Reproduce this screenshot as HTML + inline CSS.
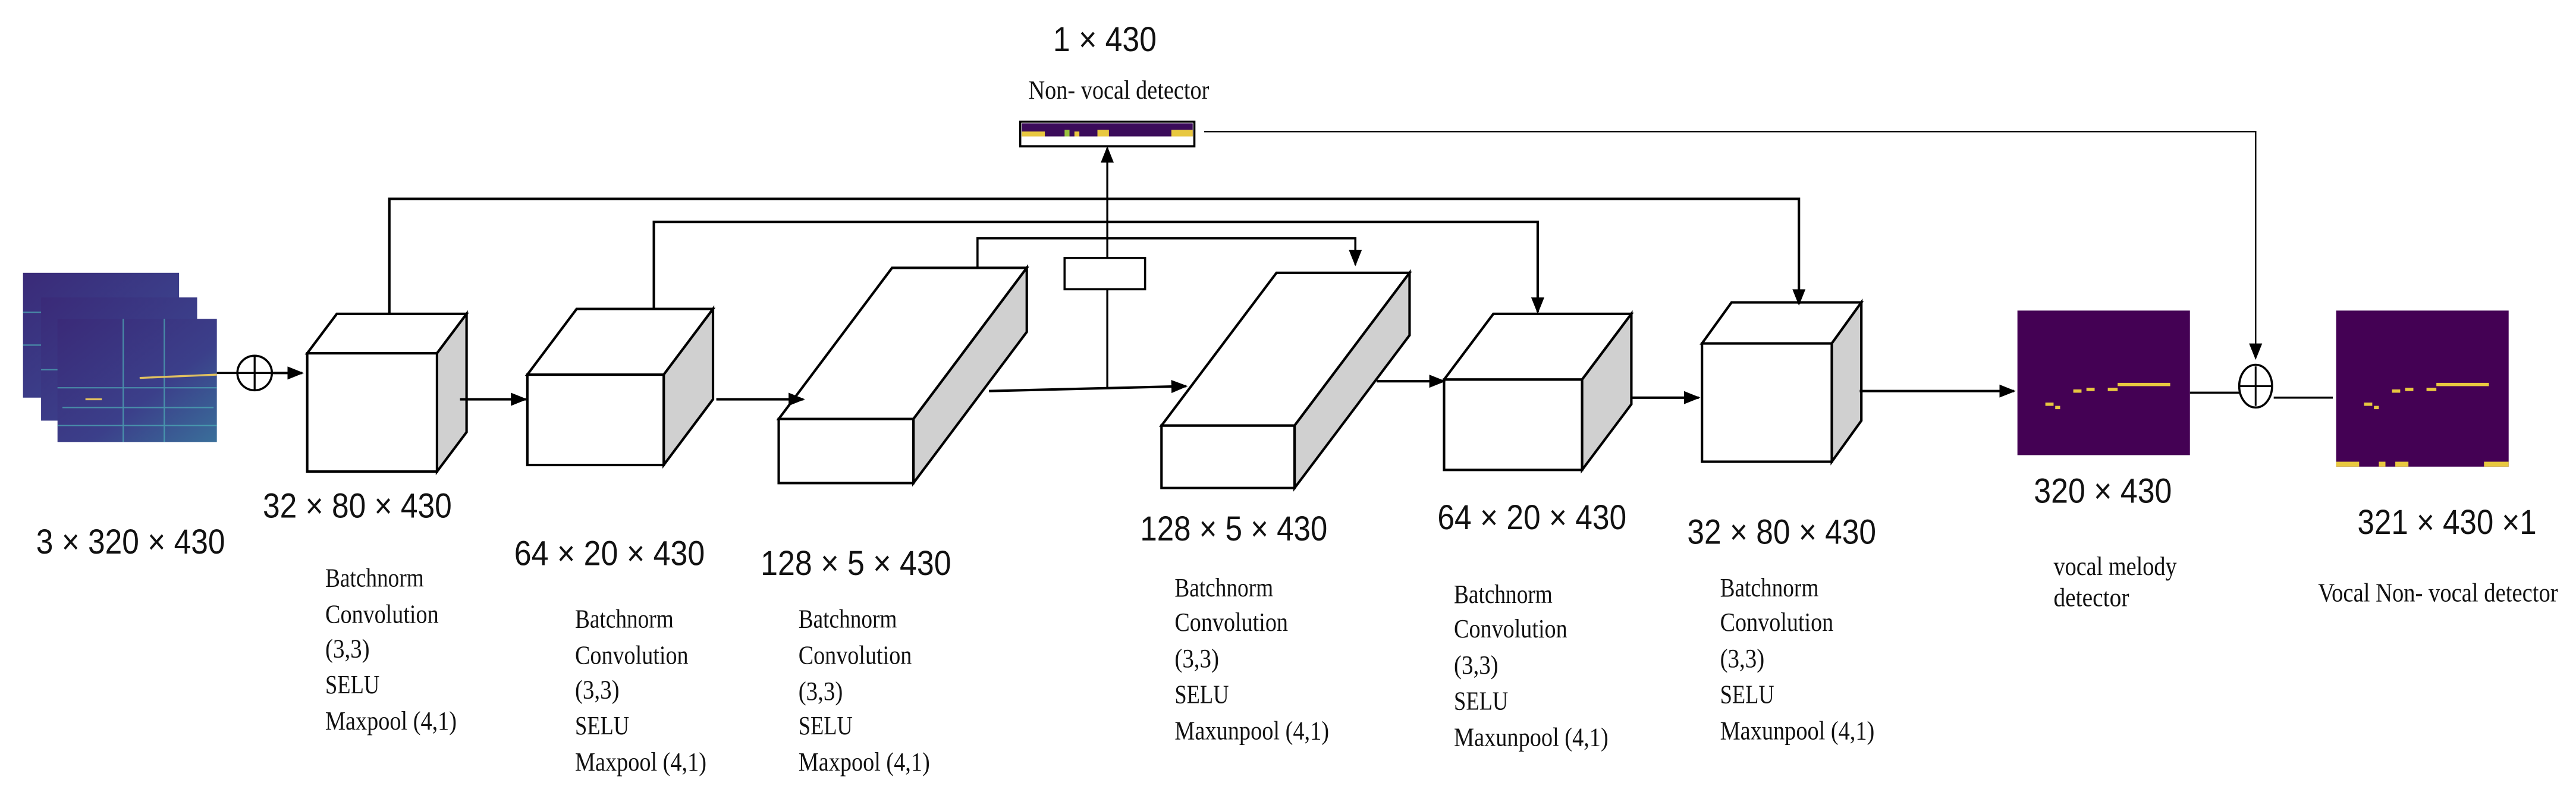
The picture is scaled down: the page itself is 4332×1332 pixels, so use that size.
<!DOCTYPE html>
<html><head><meta charset="utf-8"><style>
html,body{margin:0;padding:0;background:#fff;}
svg{display:block;}
.lab{font-family:"Liberation Sans",sans-serif;font-size:21px;fill:#111;}
.ser{font-family:"Liberation Serif",serif;font-size:16px;fill:#111;}
</style></head><body>
<svg width="4332" height="1332" viewBox="0 0 1568 482" xmlns="http://www.w3.org/2000/svg">
<defs>
<marker id="ah" markerWidth="10" markerHeight="8" refX="9" refY="4" orient="auto" markerUnits="userSpaceOnUse">
<path d="M0,0 L10,4 L0,8 z" fill="#000"/></marker>
<linearGradient id="sg" x1="0" y1="0" x2="1" y2="1">
<stop offset="0" stop-color="#3a2a78"/><stop offset="0.6" stop-color="#3b3f8a"/><stop offset="1" stop-color="#3a6f9a"/></linearGradient>
</defs>
<rect width="1568" height="482" fill="#fff"/>

<!-- spectrogram stack -->
<g>
<rect x="14" y="166" width="95" height="76" fill="url(#sg)"/>
<rect x="25" y="181" width="95" height="75" fill="url(#sg)"/>
<rect x="35" y="194" width="97" height="75" fill="url(#sg)"/>
<g stroke="#4fb0b8" stroke-width="0.8" opacity="0.7">
<line x1="35" y1="236" x2="132" y2="236"/><line x1="38" y1="248" x2="130" y2="248"/>
<line x1="35" y1="259" x2="132" y2="259"/><line x1="75" y1="194" x2="75" y2="269"/>
<line x1="100" y1="194" x2="100" y2="269"/><line x1="14" y1="190" x2="25" y2="190"/>
<line x1="14" y1="210" x2="25" y2="210"/><line x1="25" y1="225" x2="35" y2="225"/>
</g>
<line x1="85" y1="230" x2="132" y2="228" stroke="#e0c060" stroke-width="1.2"/>
<line x1="52" y1="243" x2="62" y2="243" stroke="#e0c060" stroke-width="1.2"/>
</g>

<!-- plus 1 -->
<line x1="132" y1="227" x2="145" y2="227" stroke="#000" stroke-width="1.3"/>
<circle cx="155" cy="227" r="10.5" fill="#fff" stroke="#000" stroke-width="1.3"/>
<line x1="145" y1="227" x2="165" y2="227" stroke="#000" stroke-width="1.2"/>
<line x1="155" y1="217" x2="155" y2="237" stroke="#000" stroke-width="1.2"/>
<line x1="165" y1="227" x2="184" y2="227" stroke="#000" stroke-width="1.5" marker-end="url(#ah)"/>

<!-- cubes -->
<g stroke="#000" stroke-width="1.5" stroke-linejoin="miter">
<!-- c1 -->
<polygon points="187,215 205,191 284,191 266,215" fill="#fff"/>
<polygon points="266,215 284,191 284,263 266,287" fill="#d0d0d0"/>
<rect x="187" y="215" width="79" height="72" fill="#fff"/>
<!-- c2 -->
<polygon points="321,228 351,188 434,188 404,228" fill="#fff"/>
<polygon points="404,228 434,188 434,243 404,283" fill="#d0d0d0"/>
<rect x="321" y="228" width="83" height="55" fill="#fff"/>
<!-- c3 -->
<polygon points="474,255 543,163 625,163 556,255" fill="#fff"/>
<polygon points="556,255 625,163 625,202 556,294" fill="#d0d0d0"/>
<rect x="474" y="255" width="82" height="39" fill="#fff"/>
<!-- c4 -->
<polygon points="707,259 777,166 858,166 788,259" fill="#fff"/>
<polygon points="788,259 858,166 858,204 788,297" fill="#d0d0d0"/>
<rect x="707" y="259" width="81" height="38" fill="#fff"/>
<!-- c5 -->
<polygon points="879,231 909,191 993,191 963,231" fill="#fff"/>
<polygon points="963,231 993,191 993,246 963,286" fill="#d0d0d0"/>
<rect x="879" y="231" width="84" height="55" fill="#fff"/>
<!-- c6 -->
<polygon points="1036,209 1054,184 1133,184 1115,209" fill="#fff"/>
<polygon points="1115,209 1133,184 1133,256 1115,281" fill="#d0d0d0"/>
<rect x="1036" y="209" width="79" height="72" fill="#fff"/>
</g>

<!-- main flow arrows -->
<g stroke="#000" stroke-width="1.5" fill="none">
<line x1="280" y1="243" x2="320" y2="243" marker-end="url(#ah)"/>
<line x1="436" y1="243" x2="489" y2="243" marker-end="url(#ah)"/>
<line x1="602" y1="238" x2="722" y2="235" marker-end="url(#ah)"/>
<line x1="838" y1="232" x2="879" y2="232" marker-end="url(#ah)"/>
<line x1="993" y1="242" x2="1034" y2="242" marker-end="url(#ah)"/>
<line x1="1132" y1="238" x2="1226" y2="238" marker-end="url(#ah)"/>
<!-- skips -->
<polyline points="237,191 237,121 1095,121 1095,185" marker-end="url(#ah)"/>
<polyline points="398,188 398,135 936,135 936,190" marker-end="url(#ah)"/>
<polyline points="595,163 595,145 825,145 825,161" stroke-width="1.3" marker-end="url(#ah)"/>
<!-- bottleneck to detector -->
<line x1="674" y1="236" x2="674" y2="176" stroke-width="1.2"/>
<line x1="674" y1="157" x2="674" y2="90" stroke-width="1.2" marker-end="url(#ah)"/>
</g>
<rect x="648" y="157" width="49" height="19" fill="#fff" stroke="#000" stroke-width="1.3"/>

<!-- non-vocal detector bar -->
<rect x="621" y="74" width="106" height="15" fill="#fff" stroke="#000" stroke-width="1.3"/>
<rect x="622" y="75" width="104" height="8" fill="#3b0b5a"/>
<rect x="622" y="80" width="14" height="3" fill="#e8c840"/>
<rect x="648" y="79" width="3" height="4" fill="#9ac040"/>
<rect x="654" y="80" width="3" height="3" fill="#e8c840"/>
<rect x="668" y="79" width="7" height="4" fill="#e8c840"/>
<rect x="713" y="79" width="13" height="4" fill="#e8c840"/>
<polyline points="733,80 1373,80 1373,218" fill="none" stroke="#000" stroke-width="0.9" marker-end="url(#ah)"/>

<!-- melody image -->
<rect x="1228" y="189" width="105" height="88" fill="#440154"/>
<g fill="#e8c840">
<rect x="1245" y="245" width="5" height="2"/><rect x="1251" y="247" width="3" height="2"/>
<rect x="1262" y="237" width="5" height="2"/><rect x="1270" y="236" width="5" height="2"/>
<rect x="1283" y="236" width="6" height="2"/><rect x="1289" y="233" width="32" height="2"/>
</g>
<!-- plus 2 -->
<line x1="1333" y1="239" x2="1363" y2="239" stroke="#000" stroke-width="1.3"/>
<ellipse cx="1373" cy="235" rx="10" ry="13" fill="#fff" stroke="#000" stroke-width="1.3"/>
<line x1="1363" y1="235" x2="1383" y2="235" stroke="#000" stroke-width="1.1"/>
<line x1="1373" y1="223" x2="1373" y2="247" stroke="#000" stroke-width="1.1"/>
<line x1="1384" y1="242" x2="1420" y2="242" stroke="#000" stroke-width="1.3"/>
<!-- output image -->
<rect x="1422" y="189" width="105" height="95" fill="#440154"/>
<g fill="#e8c840">
<rect x="1439" y="245" width="5" height="2"/><rect x="1445" y="247" width="3" height="2"/>
<rect x="1456" y="237" width="5" height="2"/><rect x="1464" y="236" width="5" height="2"/>
<rect x="1477" y="236" width="6" height="2"/><rect x="1483" y="233" width="32" height="2"/>
<rect x="1422" y="281" width="14" height="3"/><rect x="1448" y="281" width="4" height="3"/>
<rect x="1458" y="281" width="8" height="3"/><rect x="1512" y="281" width="15" height="3"/>
</g>

<!-- dimension labels -->
<g class="lab">
<text x="22" y="337" textLength="115" lengthAdjust="spacingAndGlyphs">3 × 320 × 430</text>
<text x="160" y="315" textLength="115" lengthAdjust="spacingAndGlyphs">32 × 80 × 430</text>
<text x="313" y="344" textLength="116" lengthAdjust="spacingAndGlyphs">64 × 20 × 430</text>
<text x="463" y="350" textLength="116" lengthAdjust="spacingAndGlyphs">128 × 5 × 430</text>
<text x="694" y="329" textLength="114" lengthAdjust="spacingAndGlyphs">128 × 5 × 430</text>
<text x="875" y="322" textLength="115" lengthAdjust="spacingAndGlyphs">64 × 20 × 430</text>
<text x="1027" y="331" textLength="115" lengthAdjust="spacingAndGlyphs">32 × 80 × 430</text>
<text x="1238" y="306" textLength="84" lengthAdjust="spacingAndGlyphs">320 × 430</text>
<text x="1435" y="325" textLength="109" lengthAdjust="spacingAndGlyphs">321 × 430 ×1</text>
<text x="641" y="31" textLength="63" lengthAdjust="spacingAndGlyphs">1 × 430</text>
</g>

<!-- serif captions -->
<g class="ser">
<text x="626" y="60" textLength="110" lengthAdjust="spacingAndGlyphs">Non- vocal detector</text>
<text x="1250" y="350" textLength="75" lengthAdjust="spacingAndGlyphs">vocal melody</text>
<text x="1250" y="369" textLength="46" lengthAdjust="spacingAndGlyphs">detector</text>
<text x="1411" y="366" textLength="146" lengthAdjust="spacingAndGlyphs">Vocal Non- vocal detector</text>
</g>

<g class="ser" id="b1">
<text x="198" y="357" textLength="60" lengthAdjust="spacingAndGlyphs">Batchnorm</text>
<text x="198" y="379" textLength="69" lengthAdjust="spacingAndGlyphs">Convolution</text>
<text x="198" y="400" textLength="27" lengthAdjust="spacingAndGlyphs">(3,3)</text>
<text x="198" y="422" textLength="33" lengthAdjust="spacingAndGlyphs">SELU</text>
<text x="198" y="444" textLength="80" lengthAdjust="spacingAndGlyphs">Maxpool (4,1)</text>
</g>
<g class="ser">
<text x="350" y="382" textLength="60" lengthAdjust="spacingAndGlyphs">Batchnorm</text>
<text x="350" y="404" textLength="69" lengthAdjust="spacingAndGlyphs">Convolution</text>
<text x="350" y="425" textLength="27" lengthAdjust="spacingAndGlyphs">(3,3)</text>
<text x="350" y="447" textLength="33" lengthAdjust="spacingAndGlyphs">SELU</text>
<text x="350" y="469" textLength="80" lengthAdjust="spacingAndGlyphs">Maxpool (4,1)</text>
</g>
<g class="ser">
<text x="486" y="382" textLength="60" lengthAdjust="spacingAndGlyphs">Batchnorm</text>
<text x="486" y="404" textLength="69" lengthAdjust="spacingAndGlyphs">Convolution</text>
<text x="486" y="426" textLength="27" lengthAdjust="spacingAndGlyphs">(3,3)</text>
<text x="486" y="447" textLength="33" lengthAdjust="spacingAndGlyphs">SELU</text>
<text x="486" y="469" textLength="80" lengthAdjust="spacingAndGlyphs">Maxpool (4,1)</text>
</g>
<g class="ser">
<text x="715" y="363" textLength="60" lengthAdjust="spacingAndGlyphs">Batchnorm</text>
<text x="715" y="384" textLength="69" lengthAdjust="spacingAndGlyphs">Convolution</text>
<text x="715" y="406" textLength="27" lengthAdjust="spacingAndGlyphs">(3,3)</text>
<text x="715" y="428" textLength="33" lengthAdjust="spacingAndGlyphs">SELU</text>
<text x="715" y="450" textLength="94" lengthAdjust="spacingAndGlyphs">Maxunpool (4,1)</text>
</g>
<g class="ser">
<text x="885" y="367" textLength="60" lengthAdjust="spacingAndGlyphs">Batchnorm</text>
<text x="885" y="388" textLength="69" lengthAdjust="spacingAndGlyphs">Convolution</text>
<text x="885" y="410" textLength="27" lengthAdjust="spacingAndGlyphs">(3,3)</text>
<text x="885" y="432" textLength="33" lengthAdjust="spacingAndGlyphs">SELU</text>
<text x="885" y="454" textLength="94" lengthAdjust="spacingAndGlyphs">Maxunpool (4,1)</text>
</g>
<g class="ser">
<text x="1047" y="363" textLength="60" lengthAdjust="spacingAndGlyphs">Batchnorm</text>
<text x="1047" y="384" textLength="69" lengthAdjust="spacingAndGlyphs">Convolution</text>
<text x="1047" y="406" textLength="27" lengthAdjust="spacingAndGlyphs">(3,3)</text>
<text x="1047" y="428" textLength="33" lengthAdjust="spacingAndGlyphs">SELU</text>
<text x="1047" y="450" textLength="94" lengthAdjust="spacingAndGlyphs">Maxunpool (4,1)</text>
</g>
</svg>
</body></html>
